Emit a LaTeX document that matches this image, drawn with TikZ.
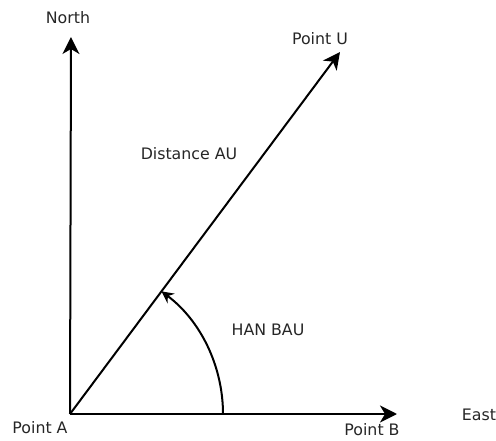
\documentclass[tikz,border=0pt]{standalone}
\usepackage{fontspec}
\setmainfont{DejaVu Sans}
\usetikzlibrary{arrows.meta}

\begin{document}
\begin{tikzpicture}[
  x=1pt, y=1pt,
  axis/.style={line width=2pt, -{Stealth[length=17pt, width=17pt, inset=5pt]}},
  sweep/.style={line width=2pt, -{Stealth[length=12pt, width=12pt, inset=4pt]}},
  lbl/.style={font=\fontsize{15.8}{18}\selectfont, text=black!85, inner sep=0pt}
]
  \useasboundingbox (-70,-26) rectangle (426,414);
  \coordinate (A) at (0,0);
  \coordinate (N) at (1,377);
  \coordinate (E) at (327,0);
  \coordinate (U) at (270,362);
  \coordinate (s) at (153,0);
  \draw[axis] (A) -- (N);
  \draw[axis] (A) -- (E);
  \draw[axis] (A) -- (U);
  \draw[sweep] (s) arc[start angle=0, end angle=53.3, radius=153];
  \node[lbl] (north) at (-2,396) {North};
  \node[lbl] (east) at (409,-1) {East};
  \node[lbl] (pu) at (250,375) {Point U};
  \node[lbl] (pa) at (-30,-14) {Point A};
  \node[lbl] (pb) at (302,-16) {Point B};
  \node[lbl] (dist) at (119,260) {Distance AU};
  \node[lbl] (han) at (198,84) {HAN BAU};
\end{tikzpicture}
\end{document}
